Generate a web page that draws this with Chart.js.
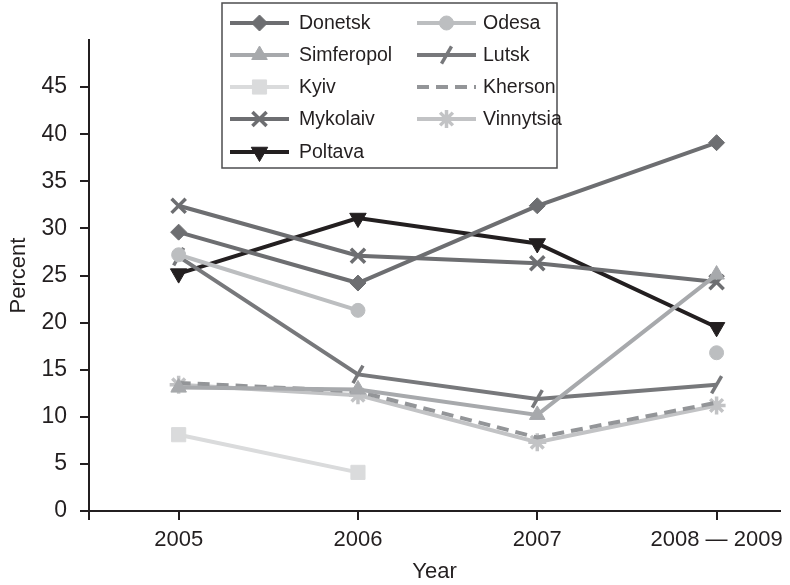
<!DOCTYPE html>
<html>
<head>
<meta charset="utf-8">
<script src="https://cdn.jsdelivr.net/npm/chart.js@4/dist/chart.umd.min.js"></script>
<style>
  html, body { margin: 0; padding: 0; background: #ffffff; }
  #wrap { width: 790px; height: 585px; position: relative; }
</style>
</head>
<body>
<div id="wrap"><canvas id="c" width="790" height="585"></canvas></div>
<script>
// ---- data ----
const categories = ['2005', '2006', '2007', '2008 \u2014 2009'];
const yTicks = [0, 5, 10, 15, 20, 25, 30, 35, 40, 45];

const donetsk    = [29.6, 24.2, 32.4, 39.1];
const odesa      = [27.2, 21.3, null, 16.8];
const simferopol = [13.1, 12.9, 10.2, 25.1];
const lutsk      = [27.0, 14.5, 11.9, 13.4];
const kyiv       = [8.1, 4.1, null, null];
const kherson    = [13.6, 12.7, 7.8, 11.5];
const mykolaiv   = [32.4, 27.1, 26.3, 24.3];
const vinnytsia  = [13.4, 12.3, 7.3, 11.2];
const poltava    = [25.2, 31.1, 28.4, 19.5];

const seriesNames = ['Donetsk', 'Odesa', 'Simferopol', 'Lutsk', 'Kyiv', 'Kherson', 'Mykolaiv', 'Vinnytsia', 'Poltava'];
const seriesValues = [donetsk, odesa, simferopol, lutsk, kyiv, kherson, mykolaiv, vinnytsia, poltava];

// ---- styles ----
const styles = {
  Donetsk:    { color: '#6d6e71', pointStyle: 'rectRot', radius: 8, rotation: 0, bw: 1 },
  Odesa:      { color: '#bcbec0', pointStyle: 'circle', radius: 7, rotation: 0, bw: 1 },
  Simferopol: { color: '#a7a9ac', pointStyle: 'triangle', radius: 9, rotation: 0, bw: 1 },
  Lutsk:      { color: '#77787b', pointStyle: 'line', radius: 10, rotation: -60, bw: 3.5 },
  Kyiv:       { color: '#dadbdc', pointStyle: 'rect', radius: 10, rotation: 0, bw: 1 },
  Kherson:    { color: '#939598', pointStyle: false, radius: 0, rotation: 0, bw: 1, dash: [12, 7] },
  Mykolaiv:   { color: '#6d6e71', pointStyle: 'crossRot', radius: 10, rotation: 0, bw: 3.5 },
  Vinnytsia:  { color: '#c2c3c5', pointStyle: 'star', radius: 9, rotation: 0, bw: 3.5 },
  Poltava:    { color: '#231f20', pointStyle: 'triangle', radius: 9.5, rotation: 180, bw: 1 }
};

const FONT = "'Liberation Sans', Arial, Helvetica, sans-serif";
const INK = '#231f20';

const datasets = seriesNames.map((name, i) => {
  const s = styles[name];
  return {
    label: name,
    data: seriesValues[i].map((v, k) => ({ x: k, y: v })),
    borderColor: s.color,
    backgroundColor: s.color,
    borderWidth: 4,
    borderDash: s.dash || [],
    pointStyle: s.pointStyle || 'circle',
    pointRadius: s.radius,
    pointRotation: s.rotation,
    pointBorderWidth: s.bw,
    pointBackgroundColor: s.color,
    pointBorderColor: s.color,
    spanGaps: false,
    tension: 0
  };
});

// custom legend drawn over the plot
const legendPlugin = {
  id: 'boxLegend',
  afterDraw(chart) {
    const ctx = chart.ctx;
    const box = { x: 222, y: 3, w: 335, h: 165 };
    ctx.save();
    ctx.fillStyle = '#ffffff';
    ctx.fillRect(box.x, box.y, box.w, box.h);
    ctx.strokeStyle = '#4d4d4f';
    ctx.lineWidth = 1.5;
    ctx.strokeRect(box.x, box.y, box.w, box.h);
    const rowY = [23, 55, 87, 119, 152];
    const cols = [{ x0: 230, x1: 289, tx: 299 }, { x0: 417, x1: 476, tx: 483 }];
    ctx.font = '19.5px ' + FONT;
    ctx.textBaseline = 'middle';
    ctx.textAlign = 'left';
    seriesNames.forEach((name, i) => {
      const s = styles[name];
      const col = cols[i % 2];
      const y = rowY[Math.floor(i / 2)];
      ctx.strokeStyle = s.color;
      ctx.lineWidth = 4;
      ctx.setLineDash(s.dash || []);
      ctx.beginPath();
      ctx.moveTo(col.x0, y);
      ctx.lineTo(col.x1, y);
      ctx.stroke();
      ctx.setLineDash([]);
      if (s.pointStyle && Chart.helpers && Chart.helpers.drawPoint) {
        ctx.fillStyle = s.color;
        ctx.strokeStyle = s.color;
        ctx.lineWidth = s.bw;
        Chart.helpers.drawPoint(ctx, {
          pointStyle: s.pointStyle, radius: s.radius, rotation: s.rotation, borderWidth: s.bw
        }, (col.x0 + col.x1) / 2, y);
      }
      ctx.fillStyle = INK;
      ctx.fillText(name, col.tx, y + 1);
    });
    ctx.restore();
  }
};

new Chart(document.getElementById('c'), {
  type: 'line',
  data: { datasets },
  plugins: [legendPlugin],
  options: {
    responsive: false,
    animation: false,
    layout: { autoPadding: false, padding: { top: 40, right: 4, left: 0, bottom: 0 } },
    plugins: { legend: { display: false }, tooltip: { enabled: false } },
    scales: {
      x: {
        type: 'linear',
        min: -0.5,
        max: 3.354,
        afterBuildTicks(scale) {
          scale.ticks = [-0.5, 0, 1, 2, 3].map(v => ({ value: v }));
        },
        afterFit(scale) {
          scale.height = 74;
        },
        grid: { drawOnChartArea: false, drawTicks: true, tickLength: 9, color: INK, lineWidth: 2 },
        border: { display: true, color: INK, width: 2 },
        ticks: {
          autoSkip: false, maxRotation: 0, padding: 7,
          color: INK, font: { family: FONT, size: 22 },
          callback: (v) => (Number.isInteger(v) && categories[v] !== undefined) ? categories[v] : ''
        },
        title: { display: true, text: 'Year', color: INK, font: { family: FONT, size: 22 }, padding: { top: 0, bottom: 0 } }
      },
      y: {
        min: 0,
        max: 50,
        afterBuildTicks(scale) {
          scale.ticks = yTicks.map(v => ({ value: v }));
        },
        afterFit(scale) { scale.width = 89; },
        grid: { drawOnChartArea: false, drawTicks: true, tickLength: 9, color: INK, lineWidth: 2 },
        border: { display: true, color: INK, width: 2 },
        ticks: { padding: 13, color: INK, font: { family: FONT, size: 23 } },
        title: { display: true, text: 'Percent', color: INK, font: { family: FONT, size: 22 }, padding: { top: 6, bottom: 0 } }
      }
    }
  }
});
</script>
</body>
</html>
